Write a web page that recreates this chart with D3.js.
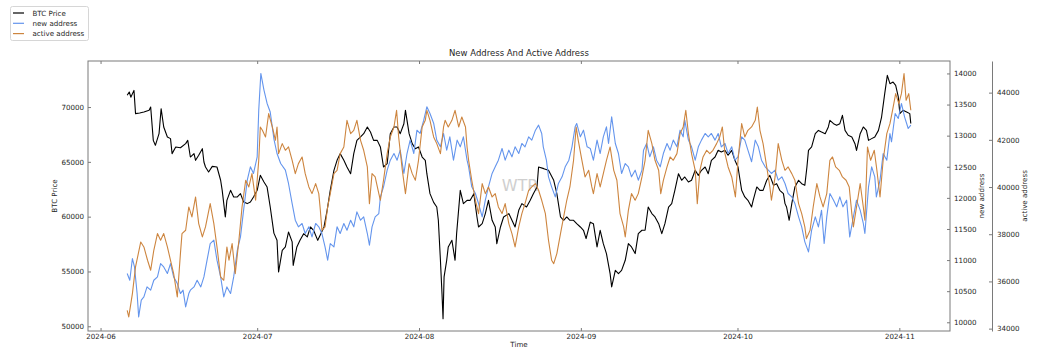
<!DOCTYPE html>
<html><head><meta charset="utf-8">
<script src="https://cdn.jsdelivr.net/npm/d3@7"></script>
<style>
html,body{margin:0;padding:0;background:#fff;}
svg{display:block;font-family:"DejaVu Sans",sans-serif;}
</style></head>
<body><svg id="chart" width="1048" height="357"></svg>
<script>
// time is expressed in days since 2024-06-01 00:00 UTC
const baseDate = "2024-06-01";
const xTickLabels = ["2024-06","2024-07","2024-08","2024-09","2024-10","2024-11"];
const priceTicks = [50000,55000,60000,65000,70000];
const newTicks = [10000,10500,11000,11500,12000,12500,13000,13500,14000];
const activeTicks = [34000,36000,38000,40000,42000,44000];

const priceDay = [5.1,5.5,5.8,6.4,6.7,7.5,8.3,9.3,9.6,10.1,10.5,11.2,11.6,12.1,12.8,13.4,13.7,14.4,15.3,16.3,16.7,17.2,17.9,18.2,18.8,19.5,19.8,20.1,20.7,21.4,22.3,23.0,23.3,23.9,24.2,24.9,25.5,26.2,26.8,27.4,28.1,28.7,29.3,30.0,30.6,31.3,31.9,32.5,33.2,33.8,34.1,34.8,35.4,36.0,36.7,36.9,37.6,38.2,38.9,39.6,40.2,40.8,41.6,42.2,42.8,43.4,44.0,44.7,45.3,45.9,46.6,47.2,47.9,48.5,49.1,49.8,50.4,51.1,51.7,52.3,53.0,53.6,54.2,54.9,55.5,56.2,56.8,57.4,58.1,58.4,59.1,59.7,60.3,60.9,61.6,62.2,62.5,63.1,63.8,64.4,64.7,65.1,65.4,65.6,65.8,66.3,66.6,67.3,67.9,68.2,68.9,69.5,70.2,70.8,71.5,72.1,72.4,73.1,73.7,74.3,75.0,75.6,75.9,76.6,77.2,78.2,78.8,79.4,80.1,80.7,81.6,82.3,82.9,83.6,83.9,84.9,85.8,86.8,87.4,88.1,88.7,89.3,89.9,90.6,91.2,91.9,92.5,93.0,93.8,94.4,95.1,95.7,96.3,96.9,97.6,97.9,98.6,99.2,99.8,100.5,101.1,101.7,102.4,103.0,103.7,104.3,104.9,105.6,106.2,106.9,107.5,108.1,108.8,109.4,110.0,110.7,111.3,111.9,112.6,113.2,113.9,114.5,115.1,115.8,116.4,117.0,117.7,118.3,118.9,119.6,120.2,120.9,121.5,122.1,122.8,123.4,124.0,124.7,125.0,125.7,126.3,126.9,127.6,128.2,128.9,129.5,130.1,130.8,131.1,131.4,131.9,132.4,133.0,133.7,134.3,134.9,135.3,135.6,136.2,136.9,137.5,138.1,138.8,139.4,139.7,140.4,141.0,141.6,142.1,142.6,143.2,143.9,144.5,144.8,145.5,146.1,146.7,147.1,147.7,148.3,149.0,149.6,150.2,150.7,151.2,151.8,152.3,152.8,153.1,153.7,154.4,155.0,155.2];
const priceValue = [71070,71370,70900,71520,69400,69450,69550,69700,70000,66960,66510,67570,69850,68180,67270,67120,65750,66350,66290,66660,66960,65440,65750,65140,65600,66200,64990,64530,64080,64590,64530,63320,62400,59970,61490,62400,61800,61800,62100,61340,61190,61340,61800,62400,63770,63160,62700,60880,58500,57840,54960,56930,57240,58600,57700,55560,57240,57840,58450,58150,59060,58760,57840,58450,59060,60580,62400,64230,65140,65750,65140,64530,63920,65750,66960,67270,67570,68180,67720,66960,66960,66360,64530,64830,67570,68180,68180,67570,68480,69700,67570,66660,66200,66360,65440,65140,63920,62100,61300,60880,59670,56020,52980,50700,54500,56020,57240,57840,56020,58450,62400,61190,61490,61490,62100,59970,59060,59360,60280,61490,59670,59060,57540,59060,59970,60280,59670,59060,60580,61190,60880,61490,62100,62710,64530,64380,64230,63320,62100,59970,59670,59970,59670,59670,59360,59060,58760,58000,59500,59360,57240,58760,57540,56630,54800,53590,55100,54800,55100,56020,57540,57240,56630,58450,58760,58760,60880,60280,59970,59360,58450,59360,60880,61190,62400,63920,63320,63620,63160,63320,64230,63770,64230,64530,63920,65140,65440,66050,65900,66050,65600,66050,65140,64530,62400,61800,61490,60880,61490,62710,62400,62400,63320,63770,62860,63010,62400,62100,61190,60880,59670,61190,62710,63320,63010,62860,64530,66050,66360,67570,67870,67720,67570,68180,68790,68480,68330,68480,69240,67870,67420,67270,66660,66050,67570,68180,67870,66960,67120,67270,67870,69090,71220,72890,72130,72280,71980,70920,69400,69700,69550,69400,68500];

const newAddrDay = [5.1,5.6,6.1,6.5,7.0,7.3,7.8,8.3,8.9,9.6,10.2,10.9,11.5,12.1,12.8,13.4,14.0,14.7,15.3,15.8,16.3,16.9,17.2,17.9,18.5,19.2,19.8,20.4,21.0,21.7,22.3,23.0,23.6,24.2,24.9,25.5,26.2,26.8,27.4,28.1,28.7,29.3,30.0,30.3,30.7,31.3,31.9,32.5,33.2,33.8,34.5,35.4,36.0,36.7,37.3,37.9,38.6,39.2,39.9,40.5,41.2,41.8,42.4,43.0,43.5,44.0,44.7,45.3,45.9,46.6,47.2,47.9,48.5,49.1,49.8,50.4,51.1,51.5,52.0,52.6,53.3,53.6,54.2,54.9,55.5,56.2,56.8,57.4,58.1,58.7,59.3,60.0,60.6,61.2,61.9,62.5,63.1,63.8,64.4,65.1,65.7,66.3,66.9,67.6,68.3,68.9,69.5,70.2,70.5,71.1,71.8,72.4,73.1,73.7,74.3,75.0,75.6,76.2,76.9,77.5,78.2,78.8,79.4,80.1,80.7,81.3,82.0,82.6,83.3,83.9,84.5,84.8,85.4,85.8,86.4,87.1,87.7,88.4,89.0,89.7,90.3,90.9,91.2,91.9,92.5,93.2,93.8,94.4,95.1,95.7,96.3,96.9,97.3,97.9,98.6,99.2,99.8,100.5,101.1,101.7,102.4,103.0,103.7,104.0,104.6,105.2,105.9,106.5,107.2,107.8,108.5,109.1,109.7,110.4,111.0,111.6,111.9,112.6,113.2,113.9,114.5,115.1,115.8,116.4,117.0,117.7,118.3,118.9,119.6,120.2,120.9,121.5,122.1,122.8,123.4,124.0,124.7,125.4,126.0,126.6,127.3,127.9,128.5,129.2,129.8,130.5,131.1,131.7,132.4,133.0,133.7,134.3,134.9,135.6,136.2,136.9,137.5,138.1,138.6,139.1,139.7,140.4,141.0,141.6,142.2,142.9,143.5,144.2,144.8,145.5,146.1,146.4,147.1,147.7,148.3,148.6,149.3,149.9,150.6,151.2,151.5,152.2,152.8,153.4,154.0,154.7,155.2];
const newAddrValue = [10784,10676,11025,10890,10462,10087,10355,10408,10569,10516,10676,10730,10944,10890,10784,10944,10730,10623,10462,10516,10248,10462,10516,10569,10676,10569,10730,10998,11266,11320,10998,10730,10408,10569,10462,10730,11159,11373,11802,12284,12499,12392,12660,13410,14000,13732,13517,13380,12950,12713,12552,12445,12231,11909,11641,11534,11588,11427,11534,11373,11588,11534,11427,11212,10998,11266,11212,11534,11427,11588,11480,11641,11534,11775,11641,11695,11427,11239,11534,11695,11748,12016,12177,12445,12606,12713,12606,12767,12392,12713,12928,12713,13088,13035,13249,13464,13356,13200,12928,12820,13035,12767,12981,12606,12928,12820,12981,12606,12499,12177,12070,11909,11695,11963,12177,12392,12499,12606,12794,12606,12767,12660,12820,12713,12874,12820,12981,12928,13088,13169,13035,12820,12606,12338,12177,12016,12231,12338,12499,12606,12820,13142,13196,12981,13088,12820,12794,12606,12928,12713,12981,13142,12874,13303,12874,12713,12392,12552,12499,12338,12445,12284,12445,12767,12874,12660,12820,12606,12499,12713,12874,12767,12928,12820,13088,12981,13249,12928,12820,12606,12820,12928,13035,12981,13035,12928,13035,12820,12874,12713,12820,12606,12660,12981,12928,12767,12580,12928,12820,12606,12499,12445,12392,12445,12284,12338,12231,12070,12016,11909,11695,11534,11293,11132,11480,11695,11534,11802,11266,11695,12070,11963,11856,12016,11856,11963,11373,11695,11963,11802,11588,11427,12177,12499,12338,12016,12284,12713,12606,13035,12901,13356,13276,13517,13303,13115,13169];

const activeDay = [5.1,5.4,6.1,6.7,7.7,8.3,9.0,9.6,10.2,10.9,11.5,12.1,12.8,13.4,14.0,14.7,15.3,15.6,16.3,16.9,17.5,18.2,18.8,19.5,20.1,21.0,21.7,22.3,23.0,23.6,24.2,24.6,25.2,25.8,26.5,27.1,27.8,28.4,29.0,29.7,30.3,30.6,31.0,31.6,32.2,32.9,33.5,33.8,34.1,34.8,35.4,36.0,36.7,37.3,37.9,38.6,39.2,39.9,40.5,41.2,41.8,42.1,42.4,43.0,43.5,44.0,44.7,45.3,45.9,46.6,47.2,47.9,48.5,49.1,49.8,50.4,51.1,51.5,52.0,52.6,53.3,53.6,54.2,54.9,55.5,56.2,56.7,57.1,57.8,58.4,59.1,59.7,60.3,60.9,61.6,62.2,62.5,63.1,63.8,64.4,65.1,65.7,66.0,66.6,67.3,67.9,68.6,69.2,69.9,70.2,70.5,71.1,71.8,72.4,73.1,73.7,74.3,75.0,75.6,76.2,76.9,77.5,78.2,78.8,79.4,80.1,80.7,81.3,82.0,82.6,83.3,83.9,84.5,85.2,85.8,86.4,86.8,87.4,88.1,88.7,89.3,89.9,90.6,91.1,91.5,92.2,92.8,93.5,94.1,94.4,95.1,95.7,96.3,96.9,97.6,98.3,98.9,99.5,100.2,100.5,101.1,101.7,102.4,103.0,103.7,104.3,104.9,105.6,106.2,106.9,107.3,107.8,108.5,109.1,109.7,110.4,111.0,111.6,112.1,112.6,113.2,113.9,114.3,114.8,115.4,116.1,116.7,117.3,118.0,118.6,119.1,119.6,120.2,120.9,121.6,122.1,122.8,123.4,124.0,124.7,125.4,125.8,126.3,126.9,127.6,128.2,128.5,129.2,129.8,130.5,131.1,131.7,132.4,133.0,133.7,134.3,134.9,135.2,135.9,136.5,137.2,137.8,138.4,139.1,139.7,140.2,140.8,141.5,142.1,142.8,143.4,143.9,144.2,144.8,145.5,146.1,146.4,146.9,147.5,148.2,148.7,149.3,149.9,150.6,151.2,151.7,152.3,152.9,153.4,153.9,154.3,154.8,155.2];
const activeValue = [34779,34497,35485,36615,37673,37462,36897,36473,37321,38027,37744,38027,37462,36897,36332,35344,37179,38027,38168,39156,38733,39580,38450,37885,38309,39297,38450,37462,36191,36050,37462,36897,37603,36332,37744,39156,40286,40003,40568,39439,41133,42545,42404,42121,43110,42545,41980,42545,41415,41839,41557,41698,41133,40568,40992,41274,40568,40003,39721,40145,39721,39015,38168,38309,39156,39721,40568,40709,41415,41698,42827,42263,42404,42827,41980,41557,40851,39297,40568,40427,39721,39439,40286,41415,42121,42545,43251,42121,40709,39721,40992,40568,40286,41133,42545,42827,43251,42827,42121,41839,41415,42545,42827,42545,42827,43251,42545,42969,42545,41698,41133,40286,39439,38874,40145,39721,40003,39580,39721,39156,38874,39297,38450,38027,37462,38309,38874,39297,39862,40003,40145,39862,39439,38874,37744,36897,36756,37179,38027,38733,39439,40003,41133,42545,41980,41133,40427,40709,40003,39721,40568,40003,40568,41133,41698,40709,40286,38874,38309,37885,39015,39721,39439,39721,40427,41133,42404,41839,41133,40709,39721,40286,40851,41274,41133,41415,42263,42545,43251,42263,41415,40709,39297,40709,41274,41557,41415,41557,41839,42121,42545,41415,40851,40427,39580,41133,42686,42121,42404,42545,42827,43392,42404,41839,40851,40003,39439,40427,41839,41133,40709,40851,40568,40286,39297,38874,38309,37815,38168,39156,40145,39580,39156,39721,41133,41274,40851,40709,40427,40286,40003,38874,38309,39156,40145,39156,38591,41698,41133,41557,40709,39580,41133,42263,42686,43251,43957,43533,43957,44804,43675,43957,43251];

const W = 1048, H = 357;
const plot = {left: 88, right: 950, top: 61, bottom: 331};
const svg = d3.select("#chart");
const base = Date.parse(baseDate + "T00:00:00Z");
const toDate = d => new Date(base + d * 86400000);

const allDays = priceDay.concat(newAddrDay, activeDay);
const dMin = d3.min(allDays), dMax = d3.max(allDays);
const pad = (dMax - dMin) * 0.05;
const x = d3.scaleUtc().domain([toDate(dMin - pad), toDate(dMax + pad)]).range([plot.left, plot.right]);
const yP = d3.scaleLinear().domain([49570, 74200]).range([plot.bottom, plot.top]);
const yN = d3.scaleLinear().domain([9860, 14200]).range([plot.bottom, plot.top]);
const yA = d3.scaleLinear().domain([33900, 45340]).range([plot.bottom, plot.top]);

const txtCol = "#262626", spineCol = "#7a7a7a";
const fs = 7.1;
const colPrice = "#000000", colNew = "#6495ed", colActive = "#cd853f";

// watermark
svg.append("text").attr("x", 520).attr("y", 191).attr("text-anchor", "middle")
  .attr("font-size", 16).attr("fill", "#cfcfcf").text("WTR");

function drawLine(days, vals, y, color) {
  const pts = days.map((d, i) => [toDate(d), vals[i]]);
  svg.append("path").datum(pts)
    .attr("fill", "none").attr("stroke", color).attr("stroke-width", 1.1)
    .attr("stroke-linejoin", "round")
    .attr("d", d3.line().x(p => x(p[0])).y(p => y(p[1])));
}
drawLine(priceDay, priceValue, yP, colPrice);
drawLine(newAddrDay, newAddrValue, yN, colNew);
drawLine(activeDay, activeValue, yA, colActive);

// frame
svg.append("rect").attr("x", plot.left).attr("y", plot.top)
  .attr("width", plot.right - plot.left).attr("height", plot.bottom - plot.top)
  .attr("fill", "none").attr("stroke", spineCol).attr("stroke-width", 1);

// x axis
const xTickDates = xTickLabels.map(s => new Date(Date.parse(s + "-01T00:00:00Z")));
const xAxis = d3.axisBottom(x).tickValues(xTickDates).tickFormat((d, i) => xTickLabels[i]).tickSizeInner(-3).tickSizeOuter(0).tickPadding(3);
const gx = svg.append("g").attr("transform", `translate(0,${plot.bottom})`).call(xAxis);
const gxTop = svg.append("g").attr("transform", `translate(0,${plot.top})`)
  .call(d3.axisTop(x).tickValues(xTickDates).tickFormat("").tickSizeInner(-3).tickSizeOuter(0));

// left axis
const gl = svg.append("g").attr("transform", `translate(${plot.left},0)`)
  .call(d3.axisLeft(yP).tickValues(priceTicks).tickFormat(d3.format("d")).tickSizeInner(-3).tickSizeOuter(0).tickPadding(4));
// right axis 1
const gr1 = svg.append("g").attr("transform", `translate(${plot.right},0)`)
  .call(d3.axisRight(yN).tickValues(newTicks).tickFormat(d3.format("d")).tickSizeInner(-3).tickSizeOuter(0).tickPadding(4));
// right axis 2
const ax2x = 992;
const gr2 = svg.append("g").attr("transform", `translate(${ax2x},0)`)
  .call(d3.axisRight(yA).tickValues(activeTicks).tickFormat(d3.format("d")).tickSizeInner(-3).tickSizeOuter(0).tickPadding(5));

[gx, gxTop, gl, gr1, gr2].forEach(g => {
  g.select(".domain").attr("stroke", spineCol);
  g.selectAll(".tick line").attr("stroke", spineCol);
  g.selectAll(".tick text").attr("fill", txtCol).attr("font-size", fs).attr("font-family", "DejaVu Sans");
});
gxTop.select(".domain").remove();
gx.select(".domain").remove();
gl.select(".domain").remove();
gr1.select(".domain").remove();

// labels
svg.append("text").attr("x", (plot.left + plot.right) / 2).attr("y", 56).attr("text-anchor", "middle")
  .attr("font-size", 8.5).attr("fill", txtCol).text("New Address And Active Address");
svg.append("text").attr("x", 519).attr("y", 347).attr("text-anchor", "middle")
  .attr("font-size", fs).attr("fill", txtCol).text("Time");
svg.append("text").attr("transform", `translate(57,${(plot.top + plot.bottom) / 2}) rotate(-90)`)
  .attr("text-anchor", "middle").attr("font-size", fs).attr("fill", txtCol).text("BTC Price");
svg.append("text").attr("transform", `translate(984,${(plot.top + plot.bottom) / 2}) rotate(-90)`)
  .attr("text-anchor", "middle").attr("font-size", fs).attr("fill", txtCol).text("new address");
svg.append("text").attr("transform", `translate(1027,${(plot.top + plot.bottom) / 2}) rotate(-90)`)
  .attr("text-anchor", "middle").attr("font-size", fs).attr("fill", txtCol).text("active address");

// legend
const legendItems = [["BTC Price", colPrice], ["new address", colNew], ["active address", colActive]];
const lg = svg.append("g");
lg.append("rect").attr("x", 10.5).attr("y", 6.5).attr("width", 78).attr("height", 34).attr("rx", 2)
  .attr("fill", "#fff").attr("stroke", "#d6d6d6").attr("stroke-width", 1);
legendItems.forEach((it, i) => {
  const yy = 13 + i * 10.3;
  lg.append("line").attr("x1", 13).attr("x2", 24).attr("y1", yy).attr("y2", yy)
    .attr("stroke", it[1]).attr("stroke-width", 1.2);
  lg.append("text").attr("x", 32.5).attr("y", yy + 2.5).attr("font-size", fs).attr("fill", txtCol).text(it[0]);
});
</script></body></html>
